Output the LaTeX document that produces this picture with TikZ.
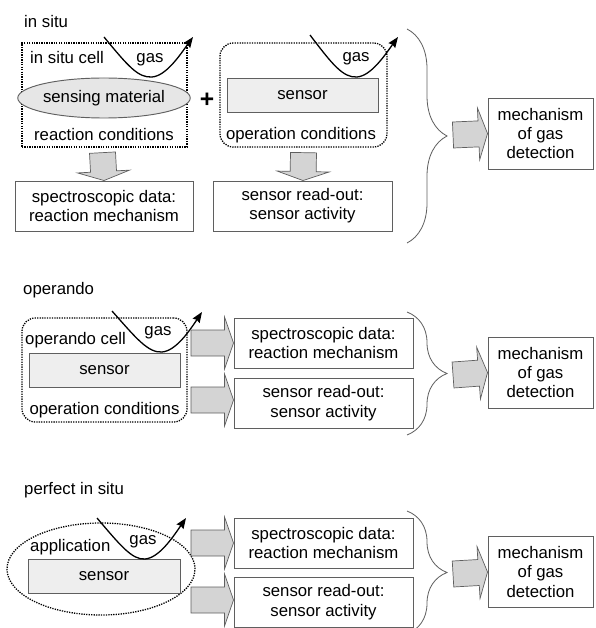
\documentclass[tikz,border=0pt]{standalone}
\usepackage{fontspec}
\setmainfont{Liberation Sans}
\usetikzlibrary{shapes.geometric,arrows.meta,positioning,calc,decorations.pathreplacing}
\definecolor{boxline}{RGB}{95,95,95}
\definecolor{arrowgray}{RGB}{212,212,212}
\definecolor{sensorgray}{RGB}{238,238,238}
\definecolor{matgray}{RGB}{230,230,230}

% fat grey arrow from #1 to #2
\newcommand{\fatarrow}[2]{%
  \coordinate (fa0) at #1;
  \coordinate (fa1) at #2;
  \coordinate (fah) at ($(fa1)!0.27cm!(fa0)$);
  \draw[draw=boxline, fill=arrowgray, line width=0.6pt]
    ($(fa0)!0.39cm!90:(fa1)$) -- ($(fah)!0.39cm!90:(fa1)$) -- ($(fah)!0.78cm!90:(fa1)$) -- (fa1)
    -- ($(fah)!0.78cm!-90:(fa1)$) -- ($(fah)!0.39cm!-90:(fa1)$) -- ($(fa0)!0.39cm!-90:(fa1)$) -- cycle;}

\begin{document}
\begin{tikzpicture}[x=0.03cm, y=-0.03cm,
  font=\fontsize{14.3}{16.5}\selectfont,
  box/.style={draw=boxline, line width=0.8pt, minimum width=5.37cm, minimum height=1.5cm, align=center, inner sep=0pt},
  mechbox/.style={box, minimum width=3.15cm, minimum height=2.13cm},
  cell/.style={draw, densely dotted, line width=1.1pt, minimum width=4.95cm, minimum height=3.12cm},
  sensorbox/.style={draw=boxline, line width=0.8pt, fill=sensorgray, minimum width=4.53cm, minimum height=1.02cm, inner sep=0pt},
  lbl/.style={inner sep=0pt},
  gas/.style={-{Stealth[length=9pt, width=7pt, inset=1pt]}, line width=1.1pt},
  bracket/.style={decorate, decoration={brace, amplitude=1.2cm}, line width=0.7pt, draw=boxline},
]
\useasboundingbox (0,0) rectangle (595,628);

% --- in situ
\node[lbl, anchor=west] (t1) at (24,22) {in situ};
\node[cell] (cellA) at (104.5,95) {};
\node[lbl, anchor=west] (cellAl) at (30,58) {in situ cell};
\node[ellipse, draw=boxline, line width=0.8pt, fill=matgray, minimum width=4.56cm, minimum height=1.2cm, inner sep=0pt] (mat) at (104,98) {sensing material};
\node[lbl] (reac) at (104,135) {reaction conditions};
\draw[gas] (104,37) .. controls (128,66) and (138,78) .. (152,77) .. controls (166,76) and (180,55) .. (193,37);
\node[lbl] (gasA) at (150,60) {gas};
\node[lbl, font=\fontsize{21}{21}\selectfont\bfseries] (plus) at (207,100) {+};

\node[cell, rounded corners=0.4cm, minimum width=5.01cm] (cellB) at (303.5,95) {};
\node[sensorbox] (sensB) at (302.5,95) {sensor};
\node[lbl] (operB) at (301,135) {operation conditions};
\draw[gas] (310,35) .. controls (332,64) and (343,78) .. (357,77) .. controls (371,76) and (385,55) .. (398,37);
\node[lbl] (gasB) at (356,59) {gas};

\node[box, minimum width=5.34cm] (specA) at (104,206) {spectroscopic data:\\reaction mechanism};
\node[box] (readA) at (302.5,206) {sensor read-out:\\sensor activity};
\fatarrow{($(cellA.south)+(-2,5)$)}{(specA.north)}
\fatarrow{($(cellB.south)+(0,5)$)}{($(readA.north)+(0.5,0)$)}

\draw[bracket] (407,29) -- (407,243);
\node[mechbox] (mechA) at (540.5,133.5) {mechanism\\of gas\\detection};
\fatarrow{(453,135)}{(mechA.west)}

% --- operando
\node[lbl, anchor=west] (t2) at (23,290) {operando};
\node[cell, rounded corners=0.4cm] (cellC) at (104.5,370) {};
\node[lbl, anchor=west] (cellCl) at (25,340) {operando cell};
\node[sensorbox] (sensC) at (104.5,370) {sensor};
\node[lbl] (operC) at (104.5,410) {operation conditions};
\draw[gas] (112,311) .. controls (136,338) and (148,353) .. (162,352) .. controls (176,351) and (190,330) .. (202,312);
\node[lbl] (gasC) at (158,333) {gas};

\node[box] (specC) at (323.5,343) {spectroscopic data:\\reaction mechanism};
\node[box] (readC) at (323.5,403) {sensor read-out:\\sensor activity};
\fatarrow{(191,343)}{(specC.west)}
\fatarrow{(191,400)}{($(readC.west)+(0,-3)$)}

\draw[bracket] (407,312) -- (407,435);
\node[mechbox] (mechC) at (540.5,372.5) {mechanism\\of gas\\detection};
\fatarrow{(453,375)}{(mechC.west)}

% --- perfect in situ
\node[lbl, anchor=west] (t3) at (24,490) {perfect in situ};
\node[ellipse, draw, densely dotted, line width=1.1pt, minimum width=5.64cm, minimum height=2.76cm] (appl) at (101,569) {};
\node[lbl, anchor=west] (appll) at (30,547) {application};
\node[sensorbox, minimum width=4.56cm] (sensE) at (104,576) {sensor};
\draw[gas] (97,518) .. controls (120,545) and (132,560) .. (145,559) .. controls (159,558) and (173,537) .. (186,518);
\node[lbl] (gasE) at (143,542) {gas};

\node[box] (specE) at (323.5,543) {spectroscopic data:\\reaction mechanism};
\node[box] (readE) at (323.5,602) {sensor read-out:\\sensor activity};
\fatarrow{(191,543)}{(specE.west)}
\fatarrow{(191,600)}{($(readE.west)+(0,-2)$)}

\draw[bracket] (407,511) -- (407,634);
\node[mechbox] (mechE) at (540.5,572) {mechanism\\of gas\\detection};
\fatarrow{(453,574)}{(mechE.west)}
\end{tikzpicture}
\end{document}
